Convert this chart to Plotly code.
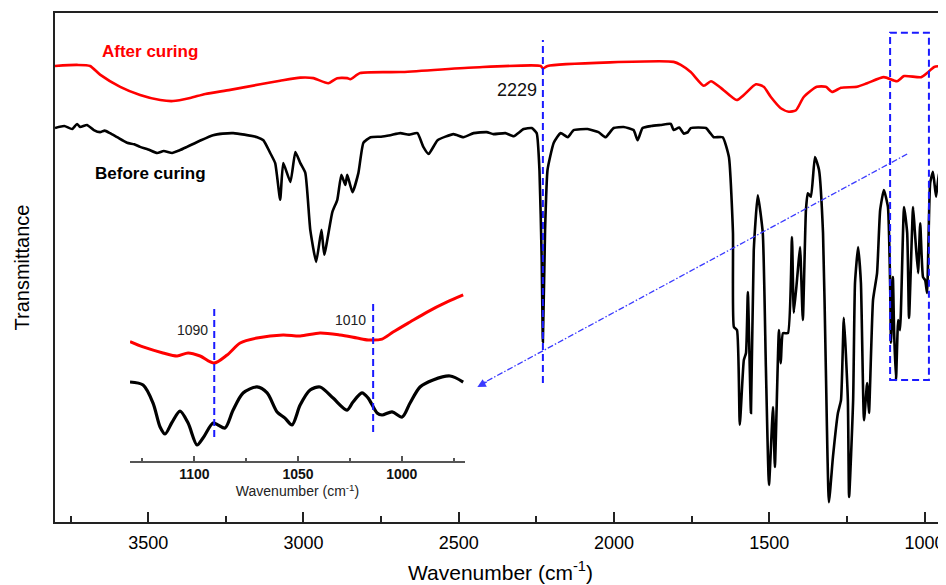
import plotly.graph_objects as go

# ---------------- main spectra (wavenumber, transmittance a.u.) ----------------
after_wn = [3800, 3729, 3687, 3655, 3590, 3526, 3461, 3420, 3365, 3316, 3236, 3139, 3075, 3010,
            2968, 2920, 2891, 2859, 2849, 2817, 2688, 2452, 2236, 2229, 2214, 1808, 1785, 1753,
            1711, 1688, 1656, 1605, 1582, 1543, 1518, 1495, 1463, 1437, 1414, 1389, 1347, 1318,
            1298, 1269, 1218, 1185, 1131, 1089, 1066, 1011, 992, 969, 928]
after_t = [89.6, 89.8, 89.6, 87.9, 85.5, 83.9, 82.9, 82.7, 83.3, 84.1, 84.9, 86.0, 86.7, 87.3,
           87.2, 86.2, 87.2, 87.2, 87.0, 88.2, 88.4, 89.3, 89.6, 89.1, 89.6, 90.4, 89.8, 88.4,
           85.7, 86.6, 85.3, 82.9, 83.9, 86.0, 85.5, 83.5, 81.3, 80.6, 80.9, 83.5, 85.5, 85.5,
           84.5, 85.3, 85.5, 86.2, 87.4, 86.6, 87.6, 87.4, 88.2, 89.4, 89.6]

before_wn = [3800, 3770, 3745, 3729, 3719, 3697, 3675, 3655, 3640, 3623, 3600, 3568, 3545, 3526,
             3500, 3471, 3450, 3423, 3400, 3375, 3330, 3291, 3260, 3226, 3190, 3149,
             3129, 3107, 3091, 3075, 3065, 3042, 3026, 3010, 2994, 2978, 2959, 2942, 2933, 2907,
             2891, 2878, 2865, 2859, 2842, 2823, 2807, 2784, 2750, 2720, 2688, 2660, 2633, 2614, 2597, 2568,
             2517, 2485, 2452, 2410, 2388, 2350, 2323, 2291, 2265, 2249, 2240, 2233, 2229, 2222, 2214,
             2194, 2172, 2149, 2130, 2085, 2050, 2027, 2001, 1969, 1937, 1924, 1908, 1880, 1850, 1817, 1808,
             1790, 1775, 1762, 1753, 1704, 1690, 1679, 1650, 1630, 1617, 1614, 1604, 1595, 1582, 1575, 1569, 1559,
             1550, 1537, 1521, 1511, 1501, 1488, 1482, 1469, 1463, 1456, 1440, 1427, 1421, 1408,
             1401, 1392, 1382, 1376, 1366, 1353, 1340, 1327, 1318, 1308, 1295, 1279, 1269, 1260,
             1247, 1243, 1230, 1224, 1214, 1205, 1195, 1185, 1179, 1166, 1153, 1143, 1131, 1118,
             1111, 1108, 1102, 1098, 1092, 1085, 1079, 1066, 1056, 1050, 1037, 1031, 1021, 1014,
             1005, 998, 992, 982, 973, 963, 953, 940, 927]
before_t = [77.4, 77.8, 77.2, 78.2, 77.6, 78.0, 77.0, 76.6, 76.9, 76.4, 75.6, 74.5, 74.2, 73.7,
            73.2, 72.5, 72.9, 72.5, 73.0, 73.7, 75.0, 76.0, 76.3, 76.4, 76.1, 75.6,
            75.0, 72.5, 70.5, 63.3, 70.5, 66.8, 72.7, 70.5, 68.6, 57.4, 51.1, 57.4, 52.5, 60.9,
            63.3, 68.2, 66.2, 68.2, 64.8, 68.6, 74.5, 75.6, 75.7, 76.0, 76.4, 76.1, 76.4, 73.7, 72.3, 75.0,
            76.2, 75.6, 76.4, 76.6, 76.2, 76.4, 75.8, 77.2, 77.4, 76.4, 69.0, 52.0, 35.4, 57.4, 69.2,
            74.5, 76.4, 75.6, 77.0, 77.2, 76.6, 75.6, 77.4, 77.6, 77.0, 75.0, 77.4, 77.8, 78.0, 78.2, 77.0,
            77.5, 76.3, 76.6, 77.4, 77.4, 76.4, 75.6, 75.6, 71.7, 56.8, 38.3, 37.7, 19.1, 31.8, 33.2, 45.2, 21.4,
            53.4, 64.2, 56.8, 30.5, 7.3, 22.6, 10.8, 37.7, 31.2, 37.1, 37.1, 56.0, 41.1, 49.5,
            54.0, 39.7, 61.3, 64.6, 63.9, 71.7, 69.2, 56.8, 30.5, 3.9, 12.8, 21.4, 24.0, 40.1,
            24.0, 4.9, 24.0, 47.0, 54.0, 47.0, 20.0, 27.3, 21.4, 43.6, 48.9, 61.3, 65.2, 61.9,
            47.0, 35.2, 48.1, 37.1, 27.9, 39.7, 37.7, 61.9, 56.8, 40.1, 61.9, 56.8, 48.9, 58.7,
            48.1, 47.5, 45.0, 66.6, 68.8, 63.9, 68.8, 45.2, 69.7]

# ---------------- inset (1131-970 cm-1) ----------------
in_after_wn = [1131.0, 1124.7, 1115.1, 1108.3, 1103.0, 1097.2, 1090.5, 1084.2, 1077.9, 1069.8,
               1057.2, 1049.0, 1039.4, 1029.7, 1021.5, 1016.2, 1009.5, 1004.2, 996.0, 987.8,
               978.1, 970.4]
in_after_t = [69.8, 66.7, 63.2, 61.4, 63.2, 61.4, 57.3, 62.0, 69.0, 71.9, 73.7, 73.1, 74.9, 73.7,
              71.9, 70.8, 71.3, 75.4, 81.3, 87.1, 93.0, 97.1]
in_before_wn = [1131.0, 1124.7, 1119.9, 1116.5, 1114.1, 1110.7, 1106.9, 1103.0, 1098.7, 1095.8,
                1091.0, 1088.6, 1085.2, 1081.3, 1076.5, 1069.8, 1064.9, 1060.1, 1056.3, 1052.9,
                1049.0, 1044.2, 1039.4, 1033.1, 1026.4, 1023.5, 1019.2, 1016.2, 1011.9, 1009.5,
                1004.7, 999.8, 996.0, 991.2, 984.9, 976.7, 970.4]
in_before_t = [46.2, 44.4, 33.9, 19.9, 15.8, 22.8, 29.2, 22.2, 9.4, 13.5, 22.2, 21.1, 19.3, 29.8,
               39.8, 43.3, 39.8, 28.7, 25.1, 21.1, 32.7, 41.5, 43.3, 36.8, 29.8, 34.5, 39.8, 36.8,
               28.1, 26.9, 28.7, 25.7, 33.9, 43.3, 47.4, 49.7, 46.2]

main_ticks = [3500, 3000, 2500, 2000, 1500, 1000]
inset_ticks = [1100, 1050, 1000]
peak_main = 2229
peak_main_label = "2229"
inset_marks = [1090.4, 1013.8]
inset_mark_labels = ["1090", "1010"]

FONT = "Arial, Liberation Sans, sans-serif"
BLUE = "#1a1aff"

fig = go.Figure()
fig.add_trace(go.Scatter(x=after_wn, y=after_t, mode="lines", line=dict(color="#ff0000", width=2.6, shape="spline", smoothing=0.6),
                         xaxis="x", yaxis="y", showlegend=False))
fig.add_trace(go.Scatter(x=before_wn, y=before_t, mode="lines", line=dict(color="#000000", width=2.6, shape="spline", smoothing=0.45),
                         xaxis="x", yaxis="y", showlegend=False))
fig.add_trace(go.Scatter(x=in_after_wn, y=in_after_t, mode="lines", line=dict(color="#ff0000", width=3, shape="spline", smoothing=0.8),
                         xaxis="x2", yaxis="y2", showlegend=False))
fig.add_trace(go.Scatter(x=in_before_wn, y=in_before_t, mode="lines", line=dict(color="#000000", width=3.2, shape="spline", smoothing=0.8),
                         xaxis="x2", yaxis="y2", showlegend=False))

shapes = []
# 2229 marker line
shapes.append(dict(type="line", xref="x", yref="y", x0=peak_main, x1=peak_main, y0=27.3, y1=94.7,
                   line=dict(color=BLUE, width=2, dash="7px,4px")))
# zoom box
shapes.append(dict(type="rect", xref="x", yref="y", x0=1111, x1=986, y0=27.9, y1=96.1,
                   line=dict(color=BLUE, width=2, dash="7px,4px")))
# dash-dot pointer
shapes.append(dict(type="line", xref="x", yref="y", x0=1056, y0=72.3, x1=2430, y1=27.0,
                   line=dict(color="#3a3aff", width=1.3, dash="6px,2px,1.5px,2px")))
# inset marker lines
for wn, yb, yt in zip(inset_marks, [14.0, 17.0], [89.5, 92.4]):
    shapes.append(dict(type="line", xref="x2", yref="y2", x0=wn, x1=wn, y0=yb, y1=yt,
                       line=dict(color=BLUE, width=2, dash="7px,4px")))

annotations = [
    dict(x=3655, y=92.4, xref="x", yref="y", text="<b>After curing</b>", showarrow=False,
         xanchor="left", yanchor="middle", font=dict(family=FONT, size=17, color="#ff0000")),
    dict(x=3677, y=68.4, xref="x", yref="y", text="<b>Before curing</b>", showarrow=False,
         xanchor="left", yanchor="middle", font=dict(family=FONT, size=17, color="#000000")),
    dict(x=2243, y=84.9, xref="x", yref="y", text=peak_main_label, showarrow=False,
         xanchor="right", yanchor="middle", font=dict(family=FONT, size=18, color="#111111")),
    dict(x=2440, y=26.5, ax=2405, ay=27.7, xref="x", yref="y", axref="x", ayref="y", text="",
         showarrow=True, arrowhead=2, arrowsize=1.3, arrowwidth=1.3, arrowcolor="#3a3aff"),
    dict(x=1092.5, y=76.6, xref="x2", yref="y2", text=inset_mark_labels[0], showarrow=False,
         xanchor="right", yanchor="middle", font=dict(family=FONT, size=14, color="#222222")),
    dict(x=1016.2, y=82.5, xref="x2", yref="y2", text=inset_mark_labels[1], showarrow=False,
         xanchor="right", yanchor="middle", font=dict(family=FONT, size=14, color="#222222")),
]

# the page body adds an 8px offset, so the figure is sized 8px smaller than the window
fig.update_layout(
    width=938, height=577,
    margin=dict(l=47, r=0, t=5, b=63),
    paper_bgcolor="white", plot_bgcolor="white",
    font=dict(family=FONT, color="#000000"),
    shapes=shapes, annotations=annotations,
    xaxis=dict(range=[3800, 931], domain=[0, 1], tickvals=main_ticks, ticks="inside", ticklen=10, tickwidth=2,
               tickcolor="#222222", showline=True, linecolor="#222222", linewidth=2, mirror=True,
               showgrid=False, zeroline=False, tickfont=dict(size=18, family=FONT), automargin=False,
               ticklabelstandoff=3,
               minor=dict(dtick=250, tick0=3750, ticks="inside", ticklen=6, tickwidth=2, tickcolor="#222222"),
               title=dict(text="Wavenumber (cm<sup>-1</sup>)", font=dict(size=21, family=FONT), standoff=14)),
    yaxis=dict(range=[0, 100], domain=[0, 1], showticklabels=False, ticks="", showline=True, linecolor="#222222",
               linewidth=2, showgrid=False, zeroline=False, automargin=False,
               title=dict(text="Transmittance", font=dict(size=20, family=FONT), standoff=18)),
    xaxis2=dict(range=[1131, 969.5], domain=[0.0842, 0.4602], anchor="y2", tickvals=inset_ticks,
                ticks="inside", ticklen=5, tickwidth=1.5, tickcolor="#555555", showline=True, linecolor="#555555",
                linewidth=1.5, showgrid=False, zeroline=False, automargin=False, ticklabelstandoff=-1,
                tickfont=dict(size=14, family=FONT, color="#111111"),
                ticktext=["<b>1100</b>", "<b>1050</b>", "<b>1000</b>"],
                minor=dict(dtick=25, tick0=1125, ticks="inside", ticklen=3, tickwidth=1.5, tickcolor="#555555"),
                title=dict(text="Wavenumber (cm<sup>-1</sup>)", font=dict(size=14, family=FONT, color="#222222"), standoff=0)),
    yaxis2=dict(range=[0, 100], domain=[0.1198, 0.4558], anchor="x2", visible=False),
)

fig.write_html("out.html")
